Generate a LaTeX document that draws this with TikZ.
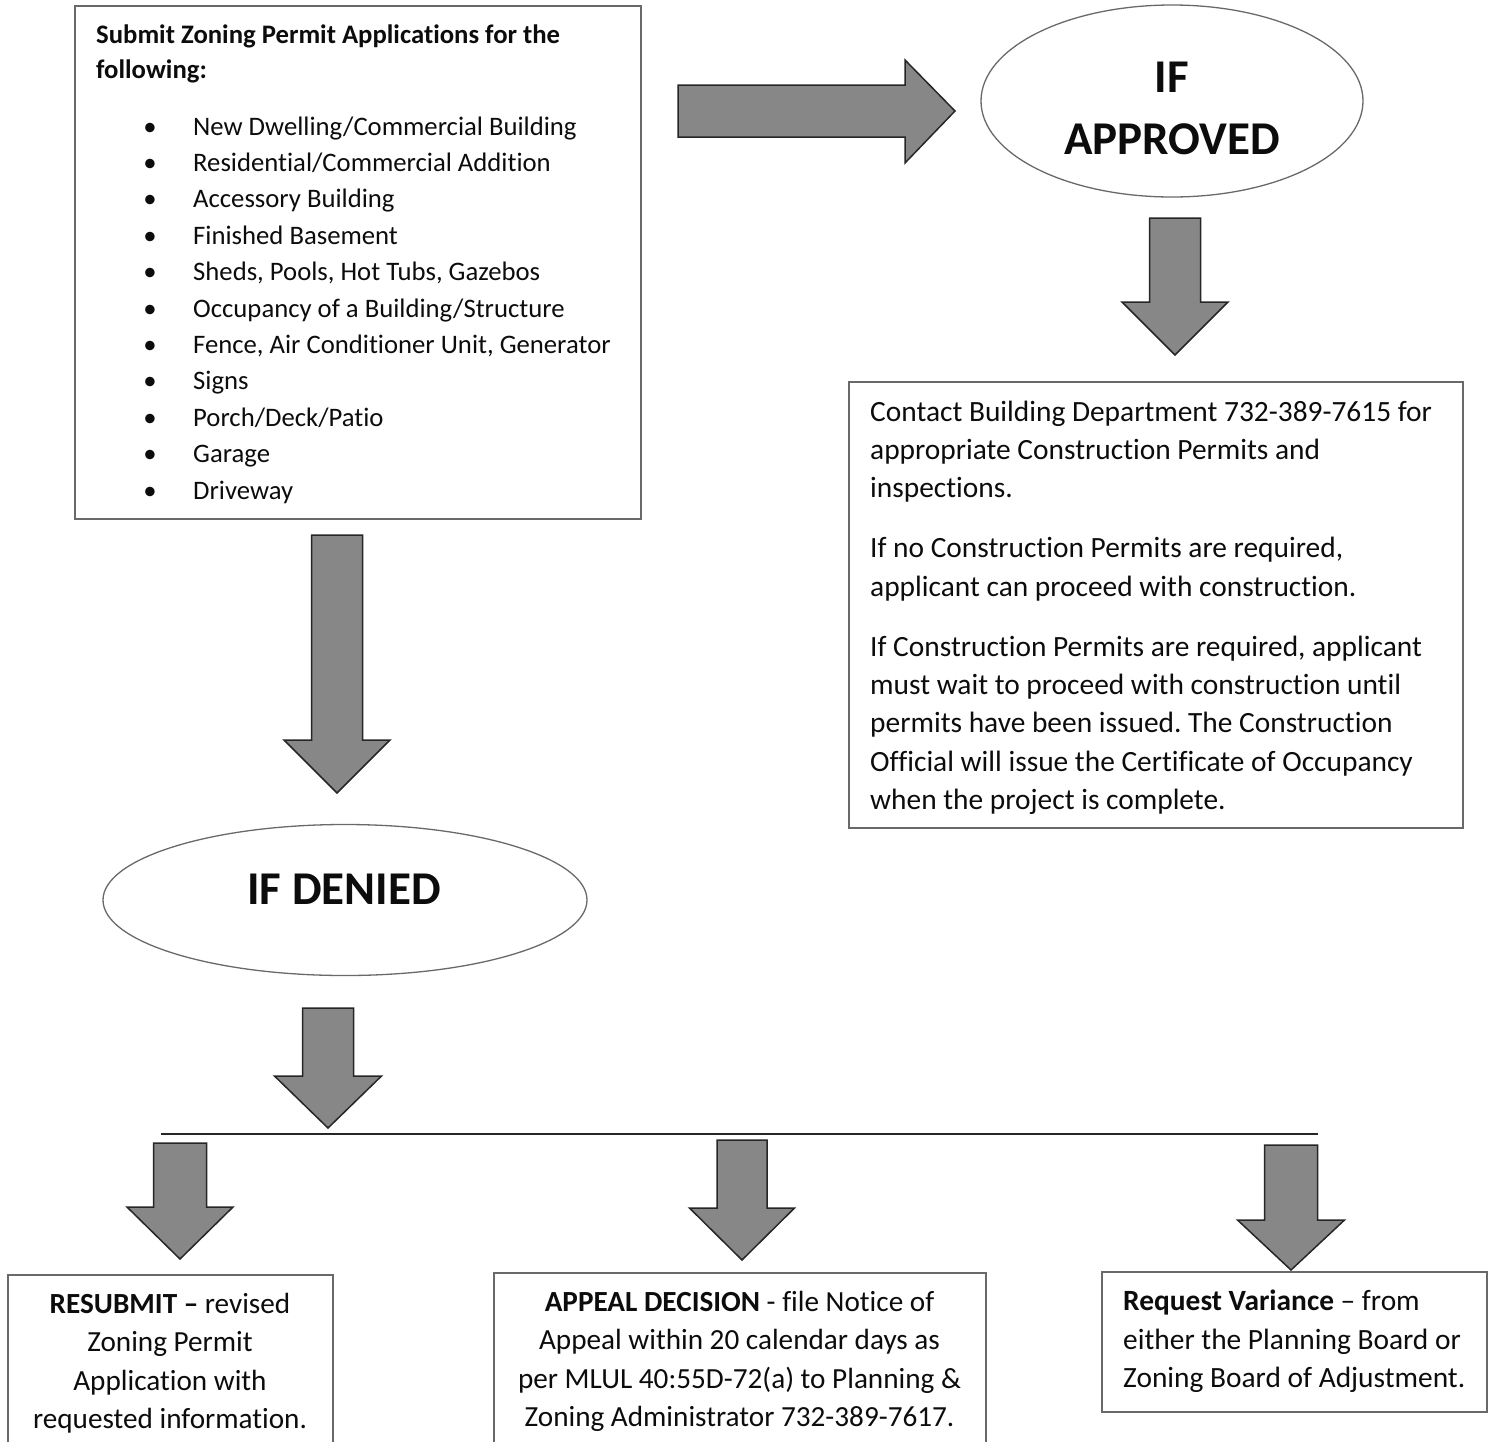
\documentclass[tikz,border=0pt]{standalone}
\usepackage{fontspec}
\setmainfont{Carlito}[Ligatures={NoCommon,NoContextual}]
\frenchspacing
\usetikzlibrary{shapes.geometric}
\definecolor{arrowfill}{RGB}{135,135,135}
\definecolor{boxline}{RGB}{105,105,105}
\definecolor{ink}{RGB}{12,12,12}
\newcommand\blkdown[6]{%
  \draw[blockarrow] (#1-#5,#2) -- (#1+#5,#2) -- (#1+#5,#3) -- (#1+#6,#3) -- (#1,#4) -- (#1-#6,#3) -- (#1-#5,#3) -- cycle;}
\begin{document}
\begin{tikzpicture}[x=1pt,y=-1pt,
  box/.style={draw=boxline, line width=1.5pt, rectangle, anchor=north west, inner sep=0pt},
  oval/.style={draw=boxline, line width=1.3pt, ellipse, inner sep=0pt},
  blockarrow/.style={fill=arrowfill, draw=black!85, line width=1.5pt, line join=miter},
  listtxt/.style={anchor=base west, inner sep=0pt, text=ink, font=\fontsize{26.7}{32}\selectfont},
  bul/.style={anchor=base, inner sep=0pt, text=ink, font=\fontsize{26.7}{32}\selectfont},
  titletxt/.style={anchor=base west, inner sep=0pt, text=ink, font=\fontsize{26.7}{32}\selectfont\bfseries},
  bodytxt/.style={anchor=base west, inner sep=0pt, text=ink, font=\fontsize{29.4}{36}\selectfont},
  ctrtxt/.style={anchor=base, inner sep=0pt, text=ink, font=\fontsize{29.2}{36}\selectfont},
  bigtxt/.style={anchor=base, inner sep=0pt, text=ink, font=\fontsize{47}{56}\selectfont\bfseries}
]
\useasboundingbox (0,0) rectangle (1494,1441);

% ---------- boxes ----------
\node[box, minimum width=566pt, minimum height=513pt] (submit) at (74,5) {};
\node[box, minimum width=614pt, minimum height=446pt] (contact) at (848,381) {};
\node[box, minimum width=325pt, minimum height=180pt] (resubmit) at (7,1274) {};
\node[box, minimum width=492pt, minimum height=180pt] (appeal) at (493,1272) {};
\node[box, minimum width=385pt, minimum height=140pt] (variance) at (1101,1271) {};

% ---------- ovals ----------
\node[oval, minimum width=382pt, minimum height=192pt] (approved) at (1172,101) {};
\node[oval, minimum width=484pt, minimum height=151pt] (denied) at (345,900) {};
\node[bigtxt] (apif) at (1172,92) {IF};
\node[bigtxt] (apword) at (1172,154) {APPROVED};
\node[bigtxt] (dnword) at (344,904) {IF DENIED};

% ---------- submit box text ----------
\node[titletxt] (t1) at (96,43) {Submit Zoning Permit Applications for the};
\node[titletxt] (t2) at (96,78) {following:};
\foreach \t [count=\i from 0] in {New Dwelling/Commercial Building, Residential/Commercial Addition, Accessory Building, Finished Basement, {Sheds, Pools, Hot Tubs, Gazebos}, Occupancy of a Building/Structure, {Fence, Air Conditioner Unit, Generator}, Signs, Porch/Deck/Patio, Garage, Driveway} {
  \node[bul] (b\i) at (150,135+36.4*\i) {•};
  \node[listtxt] (l\i) at (193,135+36.4*\i) {\t};
}

% ---------- contact box text ----------
\node[bodytxt] (c1) at (870,421) {Contact Building Department 732-389-7615 for};
\node[bodytxt] (c2) at (870,459) {appropriate Construction Permits and};
\node[bodytxt] (c3) at (870,497) {inspections.};
\node[bodytxt] (c4) at (870,557) {If no Construction Permits are required,};
\node[bodytxt] (c5) at (870,596) {applicant can proceed with construction.};
\node[bodytxt] (c6) at (870,656) {If Construction Permits are required, applicant};
\node[bodytxt] (c7) at (870,694) {must wait to proceed with construction until};
\node[bodytxt] (c8) at (870,732) {permits have been issued. The Construction};
\node[bodytxt] (c9) at (870,771) {Official will issue the Certificate of Occupancy};
\node[bodytxt] (c10) at (870,809) {when the project is complete.};

% ---------- bottom boxes text ----------
\node[ctrtxt] (r1) at (170,1313) {\textbf{RESUBMIT –} revised};
\node[ctrtxt] (r2) at (170,1351) {Zoning Permit};
\node[ctrtxt] (r3) at (170,1390) {Application with};
\node[ctrtxt] (r4) at (170,1428) {requested information.};

\node[ctrtxt] (a1) at (739.5,1311) {\textbf{APPEAL DECISION} - file Notice of};
\node[ctrtxt] (a2) at (739.5,1349) {Appeal within 20 calendar days as};
\node[ctrtxt] (a3) at (739.5,1388) {per MLUL 40:55D-72(a) to Planning \&};
\node[ctrtxt] (a4) at (739.5,1426) {Zoning Administrator 732-389-7617.};

\node[bodytxt] (v1) at (1123,1310) {\textbf{Request Variance} – from};
\node[bodytxt] (v2) at (1123,1349) {either the Planning Board or};
\node[bodytxt] (v3) at (1123,1387) {Zoning Board of Adjustment.};

% ---------- block arrows ----------
\draw[blockarrow] (678,85) -- (905,85) -- (905,60) -- (955,111) -- (905,163) -- (905,137) -- (678,137) -- cycle;
\blkdown{1175}{218}{302}{355}{25.5}{53}
\blkdown{337}{535}{740}{793}{25.5}{53}
\blkdown{328}{1008}{1076}{1128}{25.5}{53.5}
\blkdown{180}{1143}{1207}{1259}{26.5}{53}
\blkdown{742}{1140}{1208}{1260}{25}{52.5}
\blkdown{1291}{1145}{1220}{1270}{26.5}{53.5}

% ---------- split line ----------
\coordinate (hl) at (161,1134);
\coordinate (hr) at (1318,1134);
\draw[line width=1.6pt, black!85] (hl) -- (hr);
\end{tikzpicture}
\end{document}
